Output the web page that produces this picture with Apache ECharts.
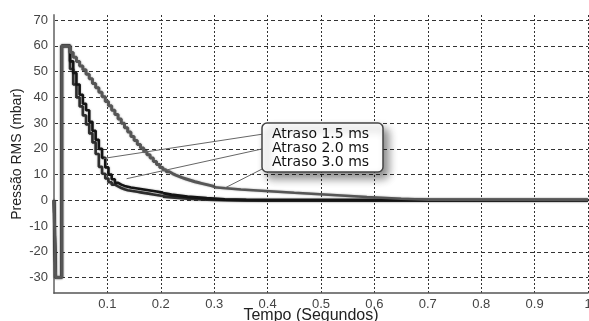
<!DOCTYPE html>
<html><head><meta charset="utf-8">
<script src="https://cdn.jsdelivr.net/npm/echarts@6/dist/echarts.min.js"></script>
<style>html,body{margin:0;padding:0;background:#fff}#c{width:589px;height:321px}</style>
</head><body><div id="c"></div>
<script>
// ---- data ----
const seriesNames = ['Atraso 1.5 ms', 'Atraso 2.0 ms', 'Atraso 3.0 ms'];
const spikeT = [0, 0.003, 0.0145];
const spikeV = [0, -30, 60];
const stepTimes = [0.024,0.030,0.036,0.042,0.048,0.054,0.060,0.066,0.072,0.078,
  0.084,0.090,0.096,0.102,0.108,0.114,0.120,0.126,0.132,0.138,
  0.144,0.150,0.156,0.162,0.168,0.174,0.180,0.186,0.192,0.198,
  0.204,0.210,0.216,0.222,0.228,0.234,0.240,0.246,0.252,0.258,
  0.264,0.270,0.276,0.282,0.288,0.294,0.300];
const atraso15 = [60,51,45,40,36.5,33,29.5,26,22.5,18,
  13,10.3,8.5,7.0,6.1,5.4,4.8,4.3,3.9,3.7,
  3.5,3.3,3.1,2.9,2.7,2.5,2.3,2.1,1.9,1.7,1.5];
const atraso20 = [60,54,49.5,45,41,37.5,35,30.5,27,23.5,
  20,16.5,12.8,10,8.2,6.8,6.1,5.6,5.3,5.0,
  4.8,4.6,4.4,4.2,4.0,3.8,3.6,3.4,3.2,3.0,2.8];
const atraso30 = [60,57.4,55.6,53.9,52.2,50.7,49.0,47.2,45.4,43.7,
  42.0,40.2,38.4,36.7,35.0,33.3,31.6,29.9,28.2,26.5,
  24.8,23.2,21.7,20.3,19.0,17.7,16.4,15.1,13.9,12.8,
  11.9,11.1,10.4,9.8,9.3,8.8,8.4,8.0,7.6,7.2,
  6.9,6.6,6.3,6.0,5.7,5.4,5.1];
const tailT15 = [0.22,0.25,0.286,0.32,0.36,1.0];
const tailV15 = [1.2,0.7,0.35,0.15,0.05,0];
const tailT20 = [0.22,0.25,0.286,0.32,0.36,0.40,1.0];
const tailV20 = [2.2,1.4,0.8,0.35,0.1,0,0];
const tailT30 = [0.35,0.45,0.586,0.65,0.70,1.0];
const tailV30 = [4.2,2.9,1.3,0.6,0.2,0.1];
const leaderTargets = [[0.093,16.3],[0.136,8.4],[0.32,4.8]];
const yTicks = [-30,-20,-10,0,10,20,30,40,50,60,70];
const xTicks = [0.1,0.2,0.3,0.4,0.5,0.6,0.7,0.8,0.9,1.0];
const xTickLabels = ['0.1','0.2','0.3','0.4','0.5','0.6','0.7','0.8','0.9','1'];

// ---- build ----
const colors = ['#2e2e2e', '#141414', '#565656'];
const stepVals = [atraso15, atraso20, atraso30];
const tails = [[tailT15, tailV15], [tailT20, tailV20], [tailT30, tailV30]];
function pairs(ts, vs) { return ts.map((t, i) => [t, vs[i]]); }

const series = [];
[2, 1, 0].forEach(k => {
  const vals = stepVals[k];
  const stepData = pairs(spikeT, spikeV).concat(pairs(stepTimes.slice(0, vals.length), vals));
  const last = stepData[stepData.length - 1];
  const ls = { color: colors[k], width: k === 2 ? 3 : 2.6, shadowColor: 'rgba(0,0,0,0.35)', shadowBlur: 2 };
  series.push({ name: seriesNames[k], type: 'line', step: 'end', data: stepData,
    symbol: 'none', lineStyle: ls, z: 3 + k, animation: false });
  series.push({ name: seriesNames[k] + ' tail', type: 'line', data: [last].concat(pairs(tails[k][0], tails[k][1])),
    symbol: 'none', lineStyle: Object.assign({}, ls, { width: k === 2 ? 2.5 : 3 }), z: 3 + k, animation: false });
});

const chart = echarts.init(document.getElementById('c'), null, { renderer: 'canvas' });
const font = 'Liberation Sans, Arial, sans-serif';
chart.setOption({
  backgroundColor: '#ffffff',
  animation: false,
  grid: { left: 54, right: 1, top: 15, bottom: 28, containLabel: false, outerBoundsMode: 'none' },
  xAxis: {
    type: 'value', min: 0, max: 1.0,
    name: 'Tempo (Segundos)', nameLocation: 'middle', nameGap: 15, nameMoveOverlap: false,
    nameTextStyle: { fontFamily: font, fontSize: 16, color: '#222', padding: [0, 20, 0, 0], verticalAlign: 'top' },
    axisLine: { onZero: false, lineStyle: { color: '#555', width: 1.5 } },
    axisTick: { show: false, customValues: xTicks },
    axisLabel: { customValues: xTicks, formatter: v => xTickLabels[xTicks.findIndex(t => Math.abs(t - v) < 1e-6)] || '',
      fontFamily: font, fontSize: 13, color: '#444', margin: 5 },
    splitLine: { show: true, lineStyle: { color: '#333', type: [2, 2], width: 1 } }
  },
  yAxis: {
    type: 'value', min: -36, max: 72,
    name: 'Pressão RMS (mbar)', nameLocation: 'middle', nameGap: 30, nameMoveOverlap: false,
    nameTextStyle: { fontFamily: font, fontSize: 14, color: '#222' },
    axisLine: { show: true, onZero: false, lineStyle: { color: '#888', width: 2 } },
    axisTick: { show: false, customValues: yTicks },
    axisLabel: { customValues: yTicks, fontFamily: font, fontSize: 13, color: '#444', margin: 6 },
    splitLine: { show: true, lineStyle: { color: '#333', type: [4, 3], width: 1 } }
  },
  series: series
});

// annotation box + leader lines
const box = { x: 262, y: 123, w: 121, h: 49 };
const rowsY = [134, 148, 162];
const lineStarts = [[270, 133], [271, 147], [270, 165]];
const graphics = [];
leaderTargets.forEach((p, i) => {
  const px = chart.convertToPixel({ gridIndex: 0 }, p);
  graphics.push({ type: 'line', z: 50, shape: { x1: lineStarts[i][0], y1: lineStarts[i][1], x2: px[0], y2: px[1] },
    style: { stroke: '#666', lineWidth: 1 } });
});
graphics.push({ type: 'rect', z: 60, shape: { x: box.x, y: box.y, width: box.w, height: box.h, r: 5 },
  style: { fill: '#fff', stroke: '#444', lineWidth: 1.5, shadowBlur: 9, shadowOffsetX: 5, shadowOffsetY: 6, shadowColor: 'rgba(0,0,0,0.45)' } });
seriesNames.forEach((n, i) => {
  graphics.push({ type: 'text', z: 61, x: 272, y: rowsY[i],
    style: { text: n, font: '14px DejaVu Sans, sans-serif', fill: '#111', textVerticalAlign: 'middle', verticalAlign: 'middle' } });
});
chart.setOption({ graphic: graphics });
</script></body></html>
